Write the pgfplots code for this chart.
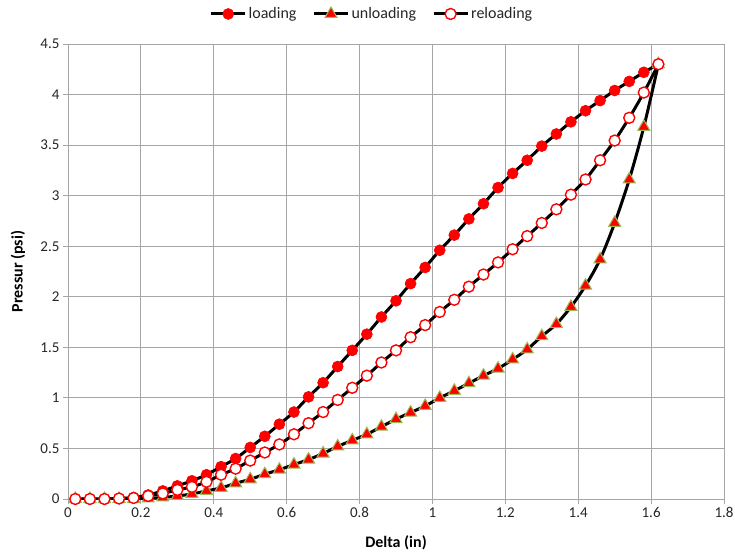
\documentclass[border=0pt]{standalone}
\usepackage{fontspec}
\setmainfont{Carlito}
\usepackage{pgfplots}
\pgfplotsset{compat=1.18}

\definecolor{gridgray}{HTML}{A6A6A6}
\definecolor{unlgreen}{HTML}{9BBB59}
\definecolor{txtgray}{HTML}{262626}

\pgfplotstableread{
x     y
0.02  0
0.06  0
0.10  0
0.14  0.005
0.18  0.015
0.22  0.04
0.26  0.08
0.30  0.13
0.34  0.18
0.38  0.24
0.42  0.32
0.46  0.40
0.50  0.51
0.54  0.62
0.58  0.74
0.62  0.86
0.66  1.01
0.70  1.15
0.74  1.31
0.78  1.47
0.82  1.63
0.86  1.80
0.90  1.96
0.94  2.13
0.98  2.29
1.02  2.46
1.06  2.61
1.10  2.77
1.14  2.92
1.18  3.08
1.22  3.22
1.26  3.35
1.30  3.49
1.34  3.61
1.38  3.73
1.42  3.84
1.46  3.94
1.50  4.04
1.54  4.13
1.58  4.22
1.62  4.30
}\loading

\pgfplotstableread{
x     y
0.02  0
0.06  0
0.10  0
0.14  0
0.18  0
0.22  0.005
0.26  0.015
0.30  0.03
0.34  0.05
0.38  0.08
0.42  0.11
0.46  0.155
0.50  0.195
0.54  0.245
0.58  0.29
0.62  0.34
0.66  0.39
0.70  0.45
0.74  0.52
0.78  0.58
0.82  0.64
0.86  0.715
0.90  0.79
0.94  0.855
0.98  0.92
1.02  1.00
1.06  1.07
1.10  1.145
1.14  1.22
1.18  1.29
1.22  1.38
1.26  1.48
1.30  1.61
1.34  1.73
1.38  1.90
1.42  2.11
1.46  2.37
1.50  2.73
1.54  3.16
1.58  3.68
1.62  4.30
}\unloading

\pgfplotstableread{
x     y
0.02  0
0.06  0
0.10  0
0.14  0.005
0.18  0.01
0.22  0.03
0.26  0.055
0.30  0.09
0.34  0.12
0.38  0.17
0.42  0.24
0.46  0.30
0.50  0.38
0.54  0.46
0.58  0.54
0.62  0.64
0.66  0.75
0.70  0.86
0.74  0.98
0.78  1.10
0.82  1.22
0.86  1.35
0.90  1.47
0.94  1.60
0.98  1.72
1.02  1.85
1.06  1.97
1.10  2.10
1.14  2.22
1.18  2.34
1.22  2.47
1.26  2.60
1.30  2.73
1.34  2.865
1.38  3.01
1.42  3.16
1.46  3.35
1.50  3.545
1.54  3.77
1.58  4.02
1.62  4.30
}\reloading

\begin{document}
\begin{tikzpicture}
\useasboundingbox (-68pt,-57pt) rectangle (667pt,499pt);
\begin{axis}[
  scale only axis,
  width=656pt, height=455pt,
  xmin=0, xmax=1.8,
  ymin=0, ymax=4.5,
  xtick={0,0.2,0.4,0.6,0.8,1,1.2,1.4,1.6,1.8},
  ytick={0,0.5,1,1.5,2,2.5,3,3.5,4,4.5},
  grid=major,
  major grid style={gridgray, line width=0.8pt},
  axis line style={gridgray, line width=0.8pt},
  tick style={gridgray, line width=0.8pt},
  tick align=outside,
  major tick length=5pt,
  tick pos=left,
  /pgf/number format/assume math mode=true,
  ticklabel style={font=\fontsize{15}{17}\selectfont, text=txtgray},
  xlabel={Delta (in)},
  ylabel={Pressur (psi)},
  label style={font=\fontsize{16}{18}\selectfont\bfseries, text=black},
  xlabel style={at={(axis description cs:0.5,-0.0967)}, anchor=center},
  ylabel style={at={(axis description cs:-0.0762,0.5)}, anchor=center},
  legend columns=3,
  legend style={at={(axis description cs:0.4634,1.066)}, anchor=center,
    draw=none, fill=none, font=\fontsize{16}{18}\selectfont, text=txtgray,
    /tikz/every even column/.append style={column sep=14pt}},
  legend image code/.code={
    \draw[mark repeat=2,mark phase=2] plot coordinates {(0pt,0pt) (17pt,0pt) (34pt,0pt)};},
]
\addplot[black, line width=3pt, smooth, mark=*, mark size=5.5pt,
  mark options={solid, draw=red, fill=red, line width=0.6pt}] table {\loading};
\addlegendentry{loading}
\addplot[black, line width=3pt, smooth, mark=triangle*, mark size=7pt,
  mark options={solid, draw=unlgreen, fill=red, line width=1pt}] table {\unloading};
\addlegendentry{unloading}
\addplot[black, line width=3pt, smooth, mark=*, mark size=5.5pt,
  mark options={solid, draw=red, fill=white, line width=1.4pt}] table {\reloading};
\addlegendentry{reloading}
\end{axis}
\end{tikzpicture}
\end{document}
